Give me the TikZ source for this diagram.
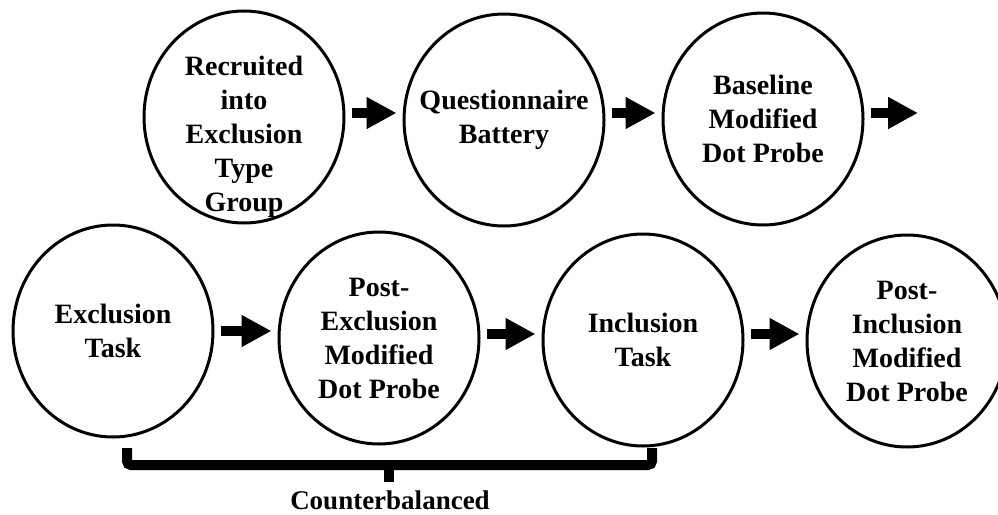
\documentclass[tikz,border=0pt]{standalone}
\usepackage{fontspec}
\setmainfont{Liberation Serif}
\usetikzlibrary{arrows.meta,shapes.geometric,positioning}

\begin{document}
\begin{tikzpicture}[
    x=1pt, y=-1pt,
    stage/.style={ellipse, draw, line width=3pt, minimum width=200pt, minimum height=212pt, inner sep=-30pt, align=center, font=\fontsize{28}{34}\selectfont\bfseries},
    stagetext/.style={align=center, inner sep=0pt, font=\fontsize{28}{34}\selectfont\bfseries},
    arrow/.style={-{Triangle[length=30pt,width=30pt]}, line width=10pt, shorten <=6pt, shorten >=6pt}
]
\useasboundingbox (0,0) rectangle (998,514);

% First row of stages
\node[stage] (recruited) at (244,117) {};
\node[stagetext] (recruitedtext) at (244,137) {Recruited\\into\\Exclusion\\Type\\Group};
\node[stage] (quest) at (504,120) {Questionnaire\\Battery};
\node[stage] (baseline) at (763,119) {Baseline\\Modified\\Dot Probe};
\coordinate (wrap) at (924,113);

% Second row of stages
\node[stage] (exclusion) at (113,331) {Exclusion\\Task};
\node[stage] (postexcl) at (379,338) {Post-\\Exclusion\\Modified\\Dot Probe};
\node[stage] (inclusion) at (643,340) {Inclusion\\Task};
\node[stage] (postincl) at (907,341) {Post-\\Inclusion\\Modified\\Dot Probe};

% Arrows
\draw[arrow] ([yshift=4pt]recruited.east) -- ([yshift=4pt]recruited.east -| quest.west);
\draw[arrow] ([yshift=7pt]quest.east) -- ([yshift=7pt]quest.east -| baseline.west);
\draw[arrow] ([yshift=6pt]baseline.east) -- (wrap);
\draw[arrow] (exclusion.east) -- (exclusion.east -| postexcl.west);
\draw[arrow] ([yshift=4pt]postexcl.east) -- ([yshift=4pt]postexcl.east -| inclusion.west);
\draw[arrow] ([yshift=6pt]inclusion.east) -- ([yshift=6pt]inclusion.east -| postincl.west);

% Counterbalanced bracket
\draw[line width=10pt, rounded corners=4pt] (127,448) -- (127,465) -- (652,465) -- (652,448);
\draw[line width=10pt] (389,465) -- (389,482);
\node[font=\fontsize{27}{32}\selectfont\bfseries] (counter) at (390,500) {Counterbalanced};

\end{tikzpicture}
\end{document}
